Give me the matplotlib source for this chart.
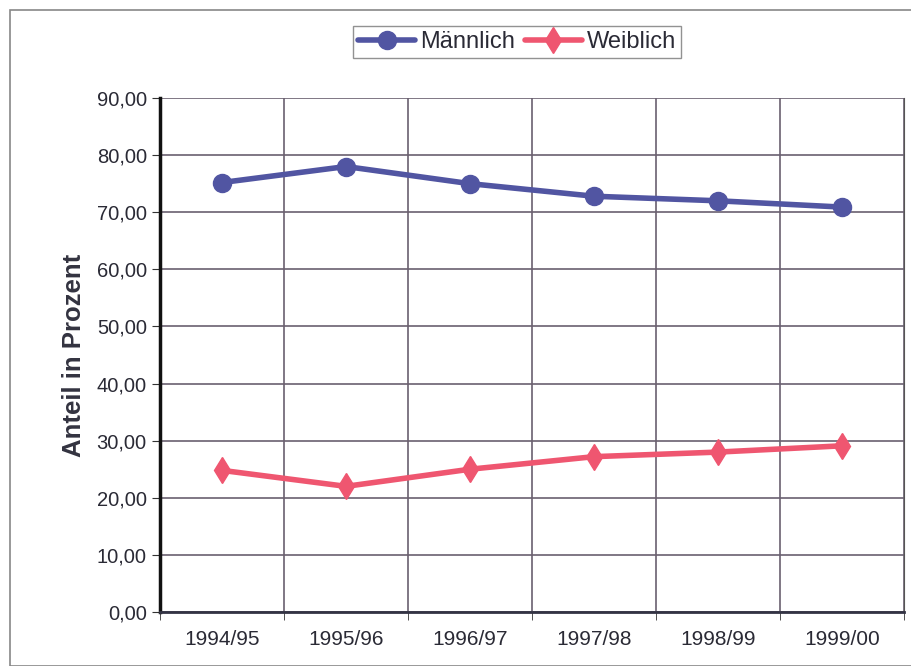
import numpy as np
import matplotlib.pyplot as plt
from matplotlib.patches import Rectangle

jahre = ['1994/95', '1995/96', '1996/97', '1997/98', '1998/99', '1999/00']
maennlich = [75.2, 78.0, 75.0, 72.8, 72.0, 70.9]
weiblich = [24.8, 22.0, 25.0, 27.2, 28.0, 29.1]

plt.rcParams['font.family'] = ['Liberation Sans', 'DejaVu Sans']

fig = plt.figure(figsize=(9.11, 6.66), dpi=100)
ax = fig.add_axes([160/911, 1-612/666, 744/911, 514/666])

x = np.arange(len(jahre))
ax.plot(x, maennlich, color='#5155a2', lw=4, marker='o', ms=13,
        label='Männlich', solid_capstyle='round')
ax.plot(x, weiblich, color='#ef5670', lw=4, marker='d', ms=13,
        label='Weiblich', solid_capstyle='round')

ax.set_xlim(-0.5, len(jahre) - 0.5)
ax.set_ylim(0, 90)
ax.set_yticks(np.arange(0, 91, 10))
ax.set_yticklabels([f'{v:.2f}'.replace('.', ',') for v in np.arange(0, 91, 10)])
ax.set_xticks(x)
ax.set_xticklabels(jahre)
ax.set_xticks(np.arange(-0.5, len(jahre)), minor=True)
ax.tick_params(axis='x', which='major', length=0, pad=13, labelsize=15)
ax.tick_params(axis='x', which='minor', length=6, color='#333333')
ax.tick_params(axis='y', length=6, color='#333333', labelsize=14.5)
ax.tick_params(labelcolor='#2a2a35')

ax.grid(True, axis='y', color='#6a6070', lw=1.2)
ax.grid(True, axis='x', which='minor', color='#6a6070', lw=1.2)
ax.set_axisbelow(True)

ax.spines['left'].set_linewidth(2.5)
ax.spines['left'].set_color('#111111')
ax.spines['bottom'].set_linewidth(2)
ax.spines['bottom'].set_color('#333344')
ax.spines['top'].set_visible(False)
ax.spines['right'].set_color('#555555')

ax.set_ylabel('Anteil in Prozent', fontsize=18.5, fontweight='bold', color='#333340', labelpad=8)

leg = fig.legend(loc='center', bbox_to_anchor=(517/911, 1-42/666), ncol=2,
                 fontsize=17, frameon=True, fancybox=False, handlelength=2.45,
                 columnspacing=0.4, handletextpad=0.2, borderpad=0.2,
                 borderaxespad=0)
leg.get_frame().set_edgecolor('#777777')
leg.get_frame().set_linewidth(1)
for t in leg.get_texts():
    t.set_color('#2a2a35')

fig.patches.append(Rectangle((10/911, 0), 1, 1-10/666, transform=fig.transFigure,
                             fill=False, edgecolor='#888888', lw=1.2))

fig.savefig('out.png', dpi=100)
